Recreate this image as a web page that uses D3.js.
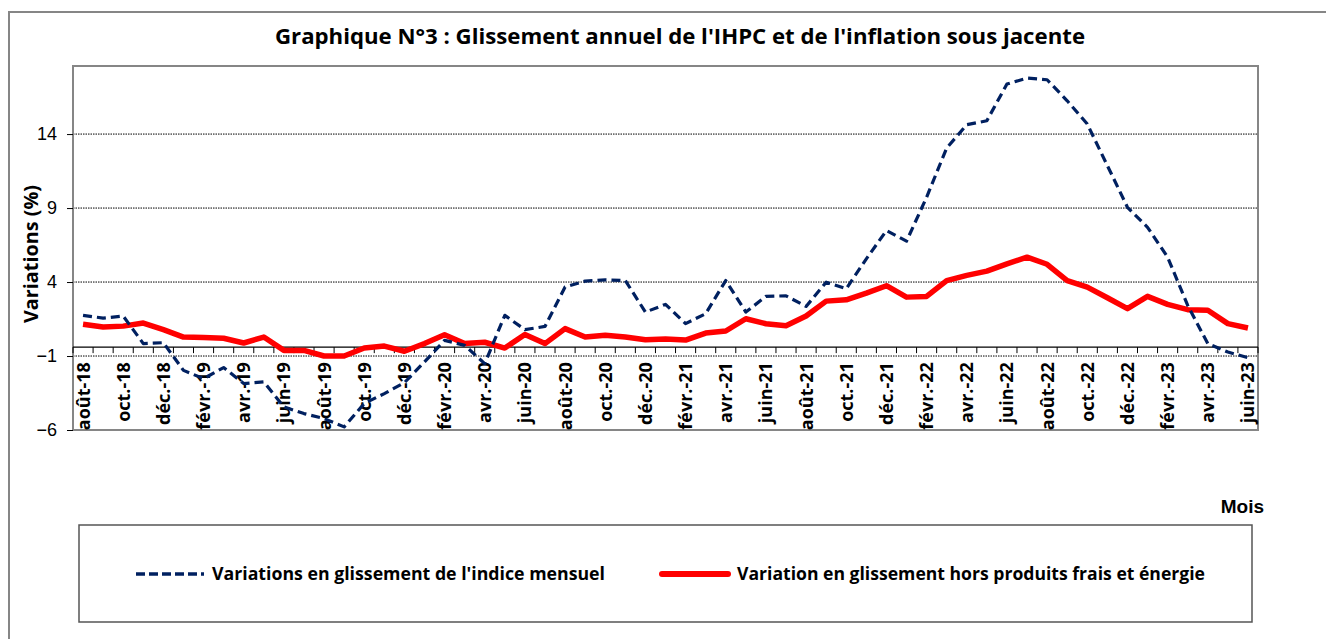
<!DOCTYPE html>
<html>
<head>
<meta charset="utf-8">
<script src="https://cdn.jsdelivr.net/npm/d3@7"></script>
<style>
  body { margin: 0; background: #fff; }
  svg { display: block; }
</style>
</head>
<body>
<div id="chart"></div>
<script>
const months = [
  'août-18', 'sept.-18', 'oct.-18', 'nov.-18', 'déc.-18',
  'janv.-19', 'févr.-19', 'mars-19', 'avr.-19', 'mai-19', 'juin-19', 'juil.-19', 'août-19', 'sept.-19', 'oct.-19', 'nov.-19', 'déc.-19',
  'janv.-20', 'févr.-20', 'mars-20', 'avr.-20', 'mai-20', 'juin-20', 'juil.-20', 'août-20', 'sept.-20', 'oct.-20', 'nov.-20', 'déc.-20',
  'janv.-21', 'févr.-21', 'mars-21', 'avr.-21', 'mai-21', 'juin-21', 'juil.-21', 'août-21', 'sept.-21', 'oct.-21', 'nov.-21', 'déc.-21',
  'janv.-22', 'févr.-22', 'mars-22', 'avr.-22', 'mai-22', 'juin-22', 'juil.-22', 'août-22', 'sept.-22', 'oct.-22', 'nov.-22', 'déc.-22',
  'janv.-23', 'févr.-23', 'mars-23', 'avr.-23', 'mai-23', 'juin-23'
];

// glissement annuel de l'indice mensuel (IHPC)
const ihpc = [
  1.75, 1.56, 1.7, -0.16, -0.1,
  -1.97, -2.53, -1.78, -2.86, -2.75, -4.44, -4.89, -5.23, -5.79, -4.21, -3.54, -2.8,
  -1.4, 0.06, -0.28, -1.51, 1.75, 0.78, 1.0, 3.66, 4.06, 4.15, 4.1, 1.97,
  2.49, 1.19, 1.86, 4.1, 1.97, 3.03, 3.07, 2.35, 3.99, 3.55, 5.57, 7.48,
  6.76, 9.73, 13.06, 14.63, 14.9, 17.38, 17.78, 17.67, 16.25, 14.68, 11.87, 9.05,
  7.7, 5.68, 2.42, -0.16, -0.73, -1.11
];

// hors produits frais et énergie (inflation sous-jacente)
const core = [
  1.14, 0.96, 1.02, 1.23, 0.78,
  0.28, 0.25, 0.2, -0.12, 0.28, -0.62, -0.62, -1.0, -1.0, -0.46, -0.33, -0.68,
  -0.16, 0.44, -0.16, -0.07, -0.46, 0.46, -0.16, 0.85, 0.28, 0.4, 0.28, 0.1,
  0.15, 0.08, 0.55, 0.69, 1.52, 1.18, 1.05, 1.7, 2.71, 2.8, 3.25, 3.75,
  2.98, 3.03, 4.1, 4.45, 4.74, 5.23, 5.68, 5.2, 4.1, 3.66, 2.94, 2.2,
  3.03, 2.49, 2.13, 2.09, 1.19, 0.89
];

const yTicks = [-6, -1, 4, 9, 14];
const seriesNames = [
  "Variations en glissement de l'indice mensuel",
  'Variation en glissement hors produits frais et énergie'
];
const title = "Graphique N°3 : Glissement annuel de l'IHPC et de l'inflation sous jacente";

const W = 1326, H = 639;
const plot = {left: 73, right: 1258, top: 66, bottom: 430};
const axisCross = -0.4;
const frameColor = '#868686';
const calibri = "'Open Sans', sans-serif";

// force a text node to a given width, like the narrower Calibri in the original
const fitWidth = (sel, width) => {
  sel.attr('textLength', width).attr('lengthAdjust', 'spacingAndGlyphs');
};

const svg = d3.select('#chart').append('svg')
    .attr('width', W)
    .attr('height', H);

svg.append('rect').attr('width', W).attr('height', H).attr('fill', '#fff');

// outer frame (only top and left visible)
svg.append('path')
    .attr('d', `M9,${H}V12H${W}`)
    .attr('fill', 'none')
    .attr('stroke', frameColor)
    .attr('stroke-width', 2);

const x = d3.scaleBand()
    .domain(months)
    .range([plot.left, plot.right])
    .padding(0);

const y = d3.scaleLinear()
    .domain([-6, 18.6])
    .range([plot.bottom, plot.top]);

// gridlines
svg.append('g')
  .selectAll('line')
    .data(yTicks.filter(d => d > -6))
  .enter().append('line')
    .attr('x1', plot.left)
    .attr('x2', plot.right)
    .attr('y1', d => y(d))
    .attr('y2', d => y(d))
    .attr('stroke', '#000')
    .attr('stroke-width', 1)
    .attr('stroke-dasharray', '1.5,1');

// plot area border
svg.append('rect')
    .attr('x', plot.left)
    .attr('y', plot.top)
    .attr('width', plot.right - plot.left)
    .attr('height', plot.bottom - plot.top)
    .attr('fill', 'none')
    .attr('stroke', frameColor)
    .attr('stroke-width', 2);

// y axis
const yAxis = svg.append('g')
    .attr('transform', `translate(${plot.left},0)`)
    .call(d3.axisLeft(y).tickValues(yTicks).tickSize(6).tickPadding(10).tickFormat(d3.format('d')));
yAxis.select('.domain').remove();
yAxis.selectAll('line').attr('stroke', '#000');
yAxis.selectAll('text')
    .attr('font-family', "'Liberation Sans', Arial, sans-serif")
    .attr('font-size', 18)
    .attr('fill', '#000');

// x axis crossing near -1, ticks between categories
const xAxisY = y(axisCross);
svg.append('line')
    .attr('x1', plot.left)
    .attr('x2', plot.right)
    .attr('y1', xAxisY)
    .attr('y2', xAxisY)
    .attr('stroke', '#000')
    .attr('stroke-width', 1.2);

svg.append('g')
  .selectAll('line')
    .data(months.concat(['end']))
  .enter().append('line')
    .attr('x1', (d, i) => i < months.length ? x(d) : x.range()[1])
    .attr('x2', (d, i) => i < months.length ? x(d) : x.range()[1])
    .attr('y1', xAxisY)
    .attr('y2', xAxisY + 6)
    .attr('stroke', '#000')
    .attr('stroke-width', 1);

svg.append('g')
  .selectAll('text')
    .data(months.filter((d, i) => i % 2 === 0))
  .enter().append('text')
    .attr('transform', d => `translate(${x(d) + x.bandwidth() / 2},${xAxisY + 15}) rotate(-90)`)
    .attr('dy', '0.36em')
    .attr('text-anchor', 'end')
    .attr('font-family', calibri)
    .attr('font-weight', 'bold')
    .attr('font-size', 18)
    .text(d => d);

// series
const line = d3.line()
    .x((d, i) => x(months[i]) + x.bandwidth() / 2)
    .y(d => y(d));

svg.append('path')
    .datum(core)
    .attr('d', line)
    .attr('fill', 'none')
    .attr('stroke', '#ff0000')
    .attr('stroke-width', 5.5)
    .attr('stroke-linejoin', 'round');

svg.append('path')
    .datum(ihpc)
    .attr('d', line)
    .attr('fill', 'none')
    .attr('stroke', '#002060')
    .attr('stroke-width', 3.2)
    .attr('stroke-dasharray', '9,5')
    .attr('stroke-linejoin', 'round');

// titles
svg.append('text')
    .attr('x', 680)
    .attr('y', 44)
    .attr('text-anchor', 'middle')
    .attr('font-family', calibri)
    .attr('font-weight', 'bold')
    .attr('font-size', 21)
    .text(title)
    .call(fitWidth, 810);

svg.append('text')
    .attr('transform', `translate(38,254) rotate(-90)`)
    .attr('text-anchor', 'middle')
    .attr('font-family', calibri)
    .attr('font-weight', 'bold')
    .attr('font-size', 19)
    .text('Variations (%)')
    .call(fitWidth, 138);

svg.append('text')
    .attr('x', 1264)
    .attr('y', 513)
    .attr('text-anchor', 'end')
    .attr('font-family', "'Liberation Sans', Arial, sans-serif")
    .attr('font-weight', 'bold')
    .attr('font-size', 19)
    .text('Mois');

// legend
const legend = svg.append('g');
legend.append('rect')
    .attr('x', 79)
    .attr('y', 525)
    .attr('width', 1252 - 79)
    .attr('height', 97)
    .attr('fill', 'none')
    .attr('stroke', '#555')
    .attr('stroke-width', 1.5);

legend.append('line')
    .attr('x1', 136).attr('x2', 204)
    .attr('y1', 574).attr('y2', 574)
    .attr('stroke', '#002060')
    .attr('stroke-width', 3.5)
    .attr('stroke-dasharray', '9,4');

legend.append('line')
    .attr('x1', 662).attr('x2', 728)
    .attr('y1', 574).attr('y2', 574)
    .attr('stroke', '#ff0000')
    .attr('stroke-width', 6)
    .attr('stroke-linecap', 'round');

legend.append('text')
    .attr('x', 212).attr('y', 580)
    .attr('font-family', calibri)
    .attr('font-weight', 'bold')
    .attr('font-size', 17)
    .text(seriesNames[0])
    .call(fitWidth, 393);

legend.append('text')
    .attr('x', 737).attr('y', 580)
    .attr('font-family', calibri)
    .attr('font-weight', 'bold')
    .attr('font-size', 17)
    .text(seriesNames[1])
    .call(fitWidth, 468);
</script>
</body>
</html>
